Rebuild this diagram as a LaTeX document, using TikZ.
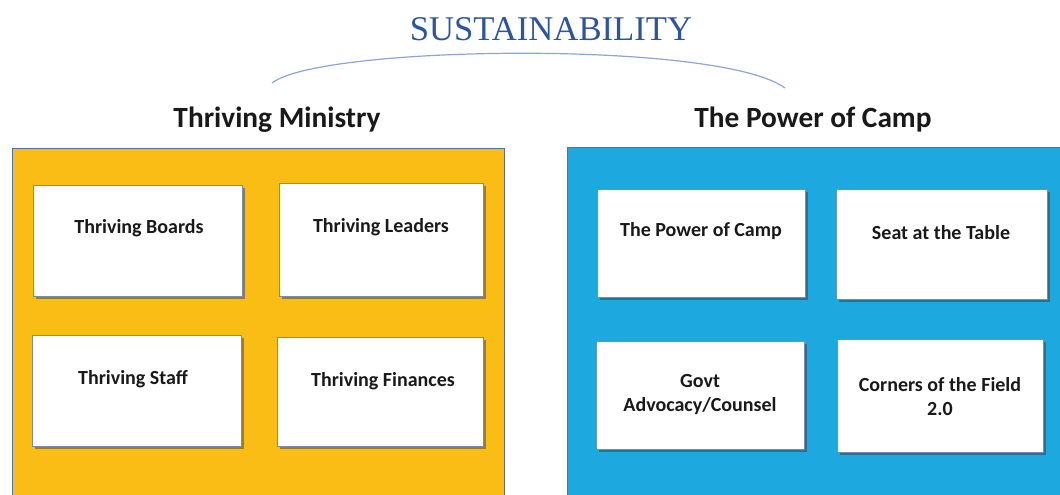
\documentclass[tikz,border=0pt]{standalone}
\usepackage{fontspec}
\setmainfont{Carlito}
\newfontfamily\titleserif{Liberation Serif}
\usetikzlibrary{fit,shadows}
\definecolor{ygold}{RGB}{249,189,22}
\definecolor{cblue}{RGB}{29,168,224}
\definecolor{sblue}{RGB}{45,85,155}
\definecolor{arcblue}{RGB}{140,165,210}
\definecolor{edgeb}{RGB}{85,110,160}
\begin{document}
\begin{tikzpicture}[x=0.75pt,y=-0.75pt,
  panel/.style={draw=edgeb, line width=0.6pt, inner sep=0pt},
  card/.style={draw=edgeb!80, line width=0.6pt, fill=white, inner sep=0pt,
    drop shadow={shadow xshift=2pt, shadow yshift=-2pt, opacity=0.45, fill=black!80}},
  cardtext/.style={font=\bfseries\fontsize{15pt}{18pt}\selectfont, align=center, text=black!90},
  heading/.style={font=\bfseries\fontsize{22pt}{26pt}\selectfont, text=black!90},
  arcline/.style={draw=arcblue, line width=0.9pt}]
\useasboundingbox (0,0) rectangle (1060,495);
\clip (0,0) rectangle (1060,495);
\fill[white] (0,0) rectangle (1060,495);
% title and arc
\node[font=\titleserif\fontsize{26pt}{30pt}\selectfont, text=sblue] (title) at (551,29) {SUSTAINABILITY};
\coordinate (arcL) at (272,83);
\coordinate (arcR) at (785,88);
\draw[arcline] (arcL) .. controls (320,45) and (720,40) .. (arcR);
% headings
\node[heading] (h1) at (277,120) {Thriving Ministry};
\node[heading] (h2) at (813,120) {The Power of Camp};
% panels
\node[panel, fill=ygold, fit={(12,148) (504,505)}] (left) {};
\node[panel, fill=cblue, fit={(567,147) (1070,505)}] (right) {};
% left cards
\node[card, fit={(33,185) (242,296)}] (b1) {};
\node[card, fit={(279,183) (483,296)}] (b2) {};
\node[card, fit={(32,335) (241,446)}] (b3) {};
\node[card, fit={(277,337) (483,446)}] (b4) {};
\node[cardtext] (t1) at (139,228) {Thriving Boards};
\node[cardtext] (t2) at (381,227) {Thriving Leaders};
\node[cardtext] (t3) at (133,379) {Thriving Staff};
\node[cardtext] (t4) at (383,381) {Thriving Finances};
% right cards
\node[card, fit={(597,189) (805,297)}] (c1) {};
\node[card, fit={(836,189) (1047,299)}] (c2) {};
\node[card, fit={(596,341) (804,449)}] (c3) {};
\node[card, fit={(837,339) (1043,452)}] (c4) {};
\node[cardtext] (u1) at (701,231) {The Power of Camp};
\node[cardtext] (u2) at (941,233) {Seat at the Table};
\node[cardtext] (u3) at (700,395) {Govt\\Advocacy/Counsel};
\node[cardtext] (u4) at (940,397) {Corners of the Field\\2.0};
\end{tikzpicture}
\end{document}
